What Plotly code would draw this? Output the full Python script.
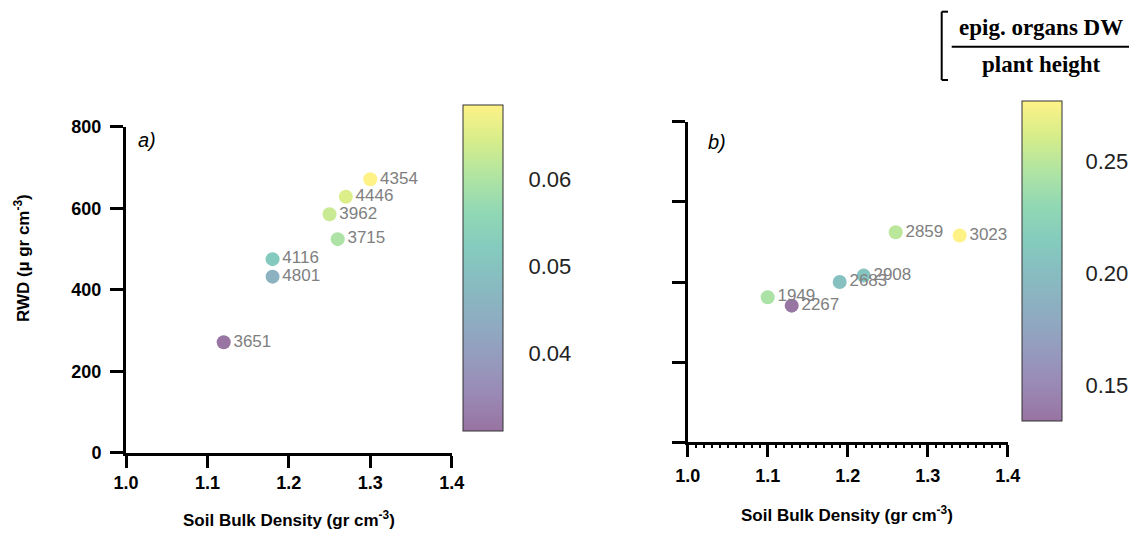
import plotly.graph_objects as go
from plotly.colors import sequential, hex_to_rgb

# ---- data ----
a_x = [1.30, 1.27, 1.25, 1.26, 1.18, 1.18, 1.12]
a_y = [671, 628, 585, 524, 475, 432, 271]
a_c = [0.0686, 0.065, 0.063, 0.060, 0.052, 0.045, 0.0315]
a_labels = ["4354", "4446", "3962", "3715", "4116", "4801", "3651"]

b_x = [1.26, 1.34, 1.22, 1.19, 1.10, 1.13]
b_y = [524, 516, 416, 400, 362, 341]
b_c = [0.250, 0.277, 0.207, 0.203, 0.243, 0.136]
b_labels = ["2859", "3023", "2908", "2683", "1949", "2267"]

x_ticks = [1.0, 1.1, 1.2, 1.3, 1.4]
y_ticks = [0, 200, 400, 600, 800]
cb_a_ticks = [0.04, 0.05, 0.06]
cb_b_ticks = [0.15, 0.20, 0.25]

# ---- washed viridis colorscale ----
alpha = 0.55
vir = sequential.Viridis
scale = []
for i, h in enumerate(vir):
    r, g, b = hex_to_rgb(h)
    r = round(alpha * r + (1 - alpha) * 255)
    g = round(alpha * g + (1 - alpha) * 255)
    b = round(alpha * b + (1 - alpha) * 255)
    scale.append([i / (len(vir) - 1), f"rgb({r},{g},{b})"])

# page body has an 8px margin: size the figure to fit inside it
PAGE_W, PAGE_H = 1137, 539
OFF = 8
W, H = PAGE_W - 2 * OFF, PAGE_H - 2 * OFF
def px(x):
    return (x - OFF) / W
def py(y):
    return 1 - (y - OFF) / H

SANS = "Liberation Sans, Arial, sans-serif"
SERIF = "Liberation Serif, Times New Roman, serif"

fig = go.Figure()
fig.add_trace(go.Scatter(
    x=a_x, y=a_y, mode="markers+text", text=a_labels, textposition="middle right",
    textfont=dict(family=SANS, size=17, color="#808080"),
    marker=dict(size=14, color=a_c, coloraxis="coloraxis", line=dict(width=0)),
    xaxis="x", yaxis="y", showlegend=False, cliponaxis=False))
fig.add_trace(go.Scatter(
    x=b_x, y=b_y, mode="markers+text", text=b_labels, textposition="middle right",
    textfont=dict(family=SANS, size=17, color="#808080"),
    marker=dict(size=14, color=b_c, coloraxis="coloraxis2", line=dict(width=0)),
    xaxis="x2", yaxis="y2", showlegend=False, cliponaxis=False))

axis_common = dict(showline=True, linewidth=3, linecolor="black", showgrid=False,
                   zeroline=False, ticks="outside", tickwidth=3, tickcolor="black",
                   tickfont=dict(family=SANS, size=18, color="black", weight="bold"))

fig.update_layout(
    width=W, height=H, margin=dict(l=0, r=0, t=0, b=0, autoexpand=False),
    paper_bgcolor="white", plot_bgcolor="white",
    xaxis=dict(domain=[px(126), px(451.7)], range=[1.0, 1.4], tickvals=x_ticks,
               ticktext=[f"{v:.1f}" for v in x_ticks], ticklen=12, ticklabelstandoff=0,
               anchor="y", **axis_common),
    yaxis=dict(domain=[py(452.7), py(126.7)], range=[0, 800], tickvals=y_ticks,
               ticklen=13, ticklabelstandoff=5, anchor="x", **axis_common),
    xaxis2=dict(domain=[px(687.7), px(1007.7)], range=[1.0, 1.4], tickvals=x_ticks,
                ticktext=[f"{v:.1f}" for v in x_ticks], ticklen=12, ticklabelstandoff=3,
                anchor="y2",
                minor=dict(dtick=0.01, ticklen=3, tickwidth=1.5, ticks="outside",
                           tickcolor="black"),
                **axis_common),
    yaxis2=dict(domain=[py(442.3), py(121.7)], range=[0, 800], tickvals=y_ticks,
                ticklen=13, showticklabels=False, anchor="x2", **axis_common),
    coloraxis=dict(
        colorscale=scale, cmin=0.0311, cmax=0.0686,
        colorbar=dict(x=px(462.7), xanchor="left", xpad=0, ypad=0,
                      y=py((105 + 430.7) / 2), yanchor="middle",
                      thickness=40, thicknessmode="pixels",
                      len=325.7, lenmode="pixels",
                      outlinewidth=1, outlinecolor="#333",
                      tickvals=cb_a_ticks, ticktext=[f"{v:.2f}" for v in cb_a_ticks],
                      ticks="outside", ticklen=21, tickcolor="rgba(0,0,0,0)",
                      tickfont=dict(family=SANS, size=22, color="#222"))),
    coloraxis2=dict(
        colorscale=scale, cmin=0.134, cmax=0.2768,
        colorbar=dict(x=px(1021.7), xanchor="left", xpad=0, ypad=0,
                      y=py((101 + 421) / 2), yanchor="middle",
                      thickness=40, thicknessmode="pixels",
                      len=320, lenmode="pixels",
                      outlinewidth=1, outlinecolor="#333",
                      tickvals=cb_b_ticks, ticktext=[f"{v:.2f}" for v in cb_b_ticks],
                      ticks="outside", ticklen=19, tickcolor="rgba(0,0,0,0)",
                      tickfont=dict(family=SANS, size=22, color="#222"))),
)

annotations = [
    dict(text="RWD (µ gr cm<sup>-3</sup>)", x=px(22), y=py(258), textangle=-90,
         font=dict(family=SANS, size=17, color="black", weight="bold")),
    dict(text="Soil Bulk Density (gr cm<sup>-3</sup>)", x=px(289), y=py(519),
         font=dict(family=SANS, size=17, color="black", weight="bold")),
    dict(text="Soil Bulk Density (gr cm<sup>-3</sup>)", x=px(847), y=py(514),
         font=dict(family=SANS, size=17, color="black", weight="bold")),
    dict(text="<i>a)</i>", x=px(147), y=py(140),
         font=dict(family=SANS, size=20, color="black")),
    dict(text="<i>b)</i>", x=px(717), y=py(142),
         font=dict(family=SANS, size=20, color="black")),
    dict(text="epig. organs DW", x=px(1041), y=py(28),
         font=dict(family=SERIF, size=23, color="black", weight="bold")),
    dict(text="plant height", x=px(1041), y=py(64),
         font=dict(family=SERIF, size=23, color="black", weight="bold")),
]
for a in annotations:
    a.update(xref="paper", yref="paper", showarrow=False, xanchor="center", yanchor="middle")
fig.update_layout(annotations=annotations)

line = dict(color="black", width=2)
shapes = [
    dict(type="line", x0=px(951.7), x1=px(1131.7), y0=py(46.7), y1=py(46.7), line=line),
    dict(type="line", x0=px(941.7), x1=px(941.7), y0=py(11.7), y1=py(80), line=line),
    dict(type="line", x0=px(941.7), x1=px(948), y0=py(11.7), y1=py(11.7), line=line),
    dict(type="line", x0=px(941.7), x1=px(948), y0=py(80), y1=py(80), line=line),
    dict(type="line", x0=px(1129), x1=px(1136), y0=py(11.7), y1=py(11.7), line=line),
    dict(type="line", x0=px(1129), x1=px(1136), y0=py(80), y1=py(80), line=line),
]
for s in shapes:
    s.update(xref="paper", yref="paper")
fig.update_layout(shapes=shapes)

fig.write_html("out.html")
